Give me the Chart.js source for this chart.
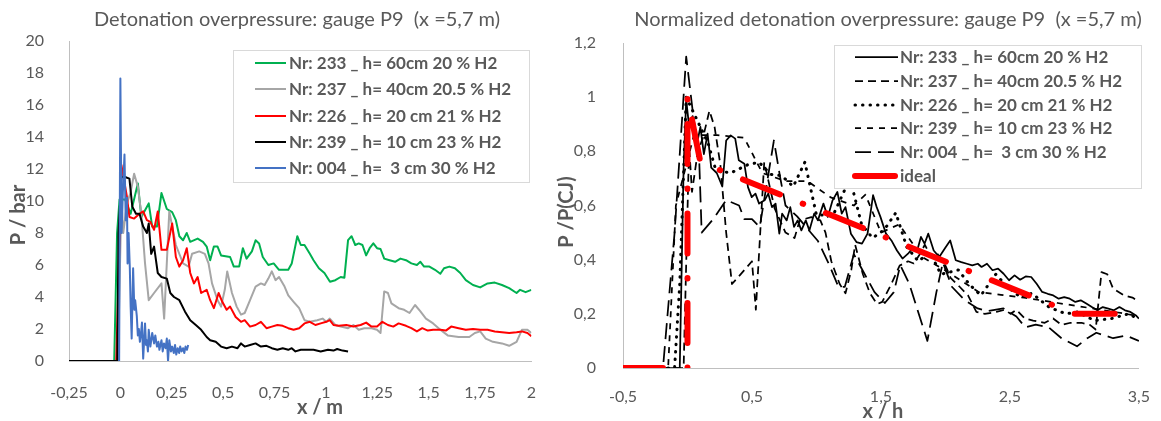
<!DOCTYPE html>
<html><head><meta charset="utf-8">
<script src="https://cdn.jsdelivr.net/npm/chart.js@4.4.1/dist/chart.umd.min.js"></script>
<style>
html,body{margin:0;padding:0;background:#fff;}
#wrap{position:relative;width:1161px;height:421px;overflow:hidden;background:#fff;}
canvas{position:absolute;top:0;}
#c1{left:0;} #c2{left:550px;}
</style></head><body>
<div id="wrap"><canvas id="c1" width="550" height="421"></canvas><canvas id="c2" width="611" height="421"></canvas></div>
<script>
// ---------- DATA ----------
const leftTitle = 'Detonation overpressure: gauge P9  (x =5,7 m)';
const rightTitle = 'Normalized detonation overpressure: gauge P9  (x =5,7 m)';
const leftXTitle = 'x / m', leftYTitle = 'P / bar';
const rightXTitle = 'x / h', rightYTitle = 'P /P(CJ)';
const seriesLabels = ['Nr: 233 _ h= 60cm 20 % H2','Nr: 237 _ h= 40cm 20.5 % H2','Nr: 226 _ h= 20 cm 21 % H2','Nr: 239 _ h= 10 cm 23 % H2','Nr: 004 _ h=  3 cm 30 % H2'];
const idealLabel = 'ideal';
const leftXTicks = [-0.25,0,0.25,0.5,0.75,1,1.25,1.5,1.75,2];
const leftYTicks = [0,2,4,6,8,10,12,14,16,18,20];
const rightXTicks = [-0.5,0.5,1.5,2.5,3.5];
const rightYTicks = [0,0.2,0.4,0.6,0.8,1,1.2];

const s233 = [[-0.25,0],[-0.03,0],[-0.016,8],[-0.004,10.1],[0.023,10.1],[0.05,9.2],[0.085,11.1],[0.102,9.0],[0.138,9.85],[0.155,8.4],[0.178,8.4],[0.2,10.5],[0.226,9.5],[0.252,9.3],[0.27,8.8],[0.287,7.8],[0.305,7.55],[0.323,8.0],[0.34,7.45],[0.376,7.65],[0.402,7.45],[0.42,7.15],[0.437,6.3],[0.455,7.15],[0.473,7.15],[0.49,6.6],[0.534,6.5],[0.552,5.9],[0.578,5.9],[0.596,7.05],[0.614,6.4],[0.64,6.85],[0.658,7.55],[0.675,7.35],[0.693,6.5],[0.72,6.0],[0.746,6.1],[0.772,5.7],[0.817,5.7],[0.834,6.1],[0.861,7.8],[0.878,7.25],[0.896,7.25],[0.922,6.7],[0.94,6.3],[0.966,5.8],[0.993,5.5],[1.02,4.95],[1.046,5.05],[1.072,5.25],[1.09,5.2],[1.108,7.55],[1.125,7.8],[1.143,7.25],[1.16,7.35],[1.178,7.25],[1.196,6.6],[1.213,7.05],[1.231,7.35],[1.249,7.05],[1.266,7.0],[1.284,6.4],[1.31,6.3],[1.337,6.2],[1.363,6.4],[1.39,6.3],[1.416,6.1],[1.443,6.0],[1.46,6.2],[1.478,5.9],[1.504,5.9],[1.531,5.7],[1.557,5.45],[1.575,5.8],[1.601,5.9],[1.628,5.8],[1.654,5.5],[1.681,5.05],[1.716,4.75],[1.751,4.6],[1.787,4.85],[1.822,4.9],[1.857,4.75],[1.892,4.55],[1.928,4.25],[1.945,4.45],[1.972,4.3],[2.0,4.45]];
const s237 = [[-0.25,0],[-0.012,0],[0.005,10.05],[0.014,8.0],[0.032,9.85],[0.049,10.5],[0.067,11.7],[0.085,10.9],[0.102,9.2],[0.12,6.1],[0.138,3.8],[0.164,4.25],[0.2,4.85],[0.213,2.65],[0.238,9.35],[0.27,7.25],[0.305,6.1],[0.332,5.9],[0.349,6.7],[0.384,6.85],[0.411,6.7],[0.429,6.1],[0.446,4.85],[0.473,3.8],[0.49,3.4],[0.508,4.45],[0.52,5.6],[0.543,4.25],[0.566,3.4],[0.587,2.9],[0.605,3.0],[0.631,3.8],[0.658,4.65],[0.684,4.85],[0.702,4.75],[0.72,5.15],[0.737,5.6],[0.755,5.05],[0.772,5.25],[0.799,4.65],[0.817,4.1],[0.843,3.7],[0.87,3.3],[0.896,2.55],[0.922,2.45],[0.958,2.55],[0.984,2.65],[1.002,2.45],[1.019,2.65],[1.046,2.25],[1.072,2.15],[1.108,2.05],[1.134,2.25],[1.16,1.95],[1.187,2.05],[1.222,2.05],[1.249,1.95],[1.266,1.75],[1.284,4.35],[1.302,4.25],[1.319,3.6],[1.354,3.3],[1.381,3.2],[1.407,3.0],[1.434,3.5],[1.46,3.1],[1.487,2.65],[1.522,2.35],[1.557,1.95],[1.593,1.6],[1.646,1.5],[1.698,1.5],[1.725,1.75],[1.751,1.85],[1.778,1.4],[1.813,1.2],[1.857,1.1],[1.892,0.95],[1.928,1.2],[1.954,1.95],[1.981,1.95],[2.0,1.75]];
const s226 = [[-0.25,0],[-0.02,0],[-0.012,3.8],[0.005,12.25],[0.032,10.25],[0.044,9.0],[0.067,8.9],[0.093,9.2],[0.111,9.35],[0.129,8.8],[0.146,8.7],[0.164,8.2],[0.182,9.35],[0.2,6.95],[0.226,6.95],[0.252,8.6],[0.27,6.5],[0.287,5.9],[0.305,6.3],[0.323,7.05],[0.34,5.5],[0.358,4.85],[0.376,5.25],[0.393,4.25],[0.42,4.45],[0.437,3.8],[0.455,3.3],[0.478,4.25],[0.496,3.7],[0.517,3.2],[0.534,3.4],[0.561,2.75],[0.587,2.45],[0.605,2.55],[0.631,2.15],[0.658,2.25],[0.684,2.45],[0.711,2.05],[0.737,2.15],[0.764,2.25],[0.79,2.2],[0.817,2.05],[0.843,1.95],[0.87,2.05],[0.896,2.35],[0.922,2.45],[0.949,2.25],[0.975,2.35],[1.002,2.45],[1.019,2.55],[1.037,2.25],[1.063,2.2],[1.099,2.25],[1.134,2.15],[1.169,2.25],[1.196,2.4],[1.222,2.15],[1.249,2.15],[1.275,2.45],[1.302,2.25],[1.328,2.15],[1.354,2.35],[1.39,2.2],[1.416,2.05],[1.443,1.85],[1.469,2.05],[1.496,1.9],[1.522,1.95],[1.557,1.95],[1.584,1.9],[1.61,2.15],[1.646,2.05],[1.681,1.95],[1.716,2.0],[1.751,1.95],[1.787,1.95],[1.822,1.85],[1.857,1.8],[1.892,1.75],[1.928,1.8],[1.954,1.85],[1.981,1.75],[2.0,1.55]];
const s239 = [[-0.25,0],[-0.015,0],[-0.009,8.0],[0.005,11.5],[0.023,11.5],[0.044,11.4],[0.058,9.65],[0.076,9.2],[0.093,9.2],[0.111,8.4],[0.129,8.0],[0.138,8.6],[0.15,6.7],[0.164,7.15],[0.182,5.5],[0.2,5.25],[0.226,5.15],[0.243,4.25],[0.261,4.0],[0.287,3.8],[0.314,3.1],[0.34,2.55],[0.367,2.25],[0.393,1.95],[0.42,1.5],[0.437,1.3],[0.464,1.2],[0.49,0.9],[0.517,0.8],[0.543,0.9],[0.57,0.8],[0.587,1.1],[0.605,0.9],[0.631,1.0],[0.658,1.1],[0.684,0.9],[0.711,0.95],[0.737,0.8],[0.764,0.7],[0.79,0.8],[0.817,0.7],[0.834,0.8],[0.852,0.6],[0.878,0.7],[0.905,0.7],[0.94,0.7],[0.975,0.6],[1.01,0.7],[1.037,0.65],[1.055,0.75],[1.081,0.65],[1.108,0.6]];
const s004 = [[-0.006,0],[0.0,17.65],[0.006,8.0],[0.012,10.5],[0.02,12.9],[0.026,8.8],[0.032,10.2],[0.035,6.1],[0.04,8.0],[0.046,5.8],[0.05,3.4],[0.055,1.4],[0.062,5.8],[0.068,3.2],[0.072,3.8],[0.08,2.8],[0.085,1.6],[0.09,2.0],[0.095,1.2],[0.1,1.7],[0.105,2.4],[0.111,0.15],[0.12,2.35],[0.125,1.0],[0.129,1.3],[0.134,0.6],[0.138,1.95],[0.146,0.9],[0.155,1.75],[0.164,1.1],[0.17,1.6],[0.178,0.9],[0.185,1.2],[0.19,0.7],[0.2,1.3],[0.206,0.6],[0.212,1.1],[0.22,0.8],[0.226,1.4],[0.232,0.0],[0.238,1.3],[0.246,0.6],[0.252,0.9],[0.26,0.5],[0.266,1.0],[0.272,0.4],[0.279,0.8],[0.286,0.5],[0.291,0.9],[0.298,0.6],[0.305,0.8],[0.311,0.5],[0.317,0.9],[0.324,0.7],[0.33,1.0]];

const r233 = [[-0.5,0],[-0.06,0],[-0.03,0.74],[-0.01,0.99],[0.013,0.89],[0.04,0.93],[0.07,0.82],[0.1,0.89],[0.127,0.79],[0.156,0.865],[0.184,0.74],[0.227,0.72],[0.27,0.67],[0.3,0.84],[0.335,0.859],[0.37,0.847],[0.398,0.767],[0.441,0.754],[0.469,0.668],[0.498,0.631],[0.527,0.644],[0.555,0.607],[0.598,0.619],[0.626,0.644],[0.655,0.594],[0.683,0.607],[0.712,0.496],[0.734,0.57],[0.769,0.545],[0.797,0.594],[0.826,0.521],[0.854,0.545],[0.883,0.508],[0.917,0.545],[0.945,0.508],[0.982,0.57],[1.011,0.545],[1.054,0.607],[1.088,0.558],[1.125,0.619],[1.162,0.65],[1.196,0.57],[1.225,0.594],[1.267,0.496],[1.31,0.465],[1.353,0.459],[1.396,0.496],[1.439,0.638],[1.467,0.594],[1.496,0.558],[1.539,0.496],[1.581,0.471],[1.624,0.434],[1.667,0.404],[1.71,0.422],[1.752,0.447],[1.781,0.434],[1.81,0.484],[1.838,0.459],[1.867,0.496],[1.909,0.434],[1.952,0.41],[1.995,0.441],[2.037,0.471],[2.08,0.398],[2.123,0.391],[2.166,0.385],[2.208,0.379],[2.251,0.385],[2.28,0.373],[2.322,0.385],[2.365,0.361],[2.408,0.367],[2.451,0.348],[2.493,0.324],[2.536,0.342],[2.579,0.326],[2.622,0.338],[2.665,0.336],[2.707,0.311],[2.75,0.281],[2.793,0.274],[2.836,0.268],[2.878,0.256],[2.921,0.262],[2.964,0.256],[3.007,0.244],[3.049,0.25],[3.092,0.238],[3.135,0.225],[3.178,0.213],[3.22,0.225],[3.263,0.219],[3.306,0.213],[3.349,0.225],[3.392,0.213],[3.434,0.207],[3.477,0.194],[3.5,0.182]];
const r237 = [[-0.5,0],[-0.03,0],[0.0125,0.82],[0.035,0.65],[0.08,0.8],[0.12,0.85],[0.17,0.95],[0.21,0.89],[0.255,0.75],[0.3,0.5],[0.345,0.31],[0.41,0.345],[0.5,0.394],[0.53,0.215],[0.595,0.76],[0.675,0.59],[0.76,0.5],[0.83,0.48],[0.87,0.545],[0.96,0.557],[1.03,0.545],[1.07,0.5],[1.115,0.394],[1.18,0.31],[1.225,0.276],[1.27,0.362],[1.3,0.455],[1.36,0.346],[1.415,0.276],[1.47,0.236],[1.51,0.244],[1.58,0.31],[1.645,0.378],[1.71,0.394],[1.755,0.386],[1.8,0.419],[1.84,0.455],[1.89,0.41],[1.93,0.427],[2.0,0.378],[2.04,0.333],[2.11,0.3],[2.175,0.268],[2.24,0.207],[2.305,0.2],[2.395,0.207],[2.46,0.215],[2.505,0.2],[2.55,0.215],[2.615,0.183],[2.68,0.175],[2.77,0.167],[2.835,0.183],[2.9,0.159],[2.97,0.167],[3.055,0.167],[3.12,0.159],[3.165,0.142],[3.21,0.354],[3.255,0.346],[3.3,0.293],[3.385,0.268],[3.45,0.26],[3.5,0.244]];
const r226 = [[-0.5,0],[-0.1,0],[-0.06,0.31],[-0.01,1.0],[0.16,0.83],[0.22,0.73],[0.335,0.72],[0.465,0.75],[0.555,0.76],[0.645,0.715],[0.73,0.71],[0.82,0.67],[0.91,0.76],[1.0,0.565],[1.13,0.565],[1.26,0.7],[1.35,0.53],[1.435,0.48],[1.525,0.51],[1.615,0.573],[1.7,0.447],[1.79,0.394],[1.88,0.427],[1.965,0.346],[2.1,0.362],[2.185,0.309],[2.275,0.268],[2.39,0.346],[2.48,0.3],[2.585,0.26],[2.67,0.276],[2.805,0.224],[2.935,0.2],[3.025,0.207],[3.155,0.175],[3.29,0.183],[3.42,0.2],[3.5,0.18]];
const r239 = [[-0.5,0],[-0.15,0],[-0.09,0.6],[0.05,0.86],[0.23,0.86],[0.44,0.85],[0.58,0.72],[0.76,0.69],[0.93,0.69],[1.11,0.63],[1.29,0.6],[1.38,0.64],[1.5,0.5],[1.64,0.53],[1.82,0.41],[2.0,0.36],[2.26,0.28],[2.43,0.27],[2.61,0.26],[2.87,0.24],[3.14,0.22],[3.4,0.2],[3.5,0.19]];
const r004 = [[-0.5,0],[-0.19,0],[-0.1,0.5],[-0.01,1.15],[0.04,0.95],[0.09,0.78],[0.11,0.5],[0.2,0.55],[0.3,0.62],[0.4,0.6],[0.44,0.55],[0.5,0.55],[0.56,0.52],[0.67,0.84],[0.72,0.7],[0.76,0.6],[0.85,0.56],[0.92,0.52],[1.01,0.47],[1.1,0.38],[1.17,0.3],[1.22,0.3],[1.29,0.42],[1.37,0.35],[1.45,0.28],[1.53,0.24],[1.6,0.28],[1.65,0.38],[1.72,0.31],[1.78,0.22],[1.86,0.1],[1.93,0.28],[1.98,0.39],[2.05,0.3],[2.15,0.25],[2.25,0.22],[2.32,0.21],[2.45,0.22],[2.55,0.19],[2.62,0.15],[2.7,0.16],[2.8,0.15],[2.9,0.11],[3.02,0.08],[3.1,0.11],[3.17,0.13],[3.3,0.11],[3.4,0.12],[3.5,0.1]];
const rIdeal = [[-0.5,0],[0,0],[0,1.0],[0.1,0.76],[3.0,0.2],[3.5,0.2]];

// ---------- HELPERS ----------
const FONT = 'Lato, "Open Sans", sans-serif';
const GREY = '#595959';
function mk(p){ return p.map(a => ({x: a[0], y: a[1]})); }
function fmt(v){ return String(v).replace('.', ','); }

const textPlugin = {
  id: 'texts',
  afterDraw(chart, args, o) {
    const ctx = chart.ctx;
    ctx.save();
    ctx.fillStyle = GREY;
    ctx.textAlign = 'center'; ctx.textBaseline = 'middle';
    ctx.font = `${o.titleSize}px ${FONT}`;
    ctx.fillText(o.title, o.titleX, o.titleY);
    ctx.font = `bold ${o.axisSize}px ${FONT}`;
    ctx.fillText(o.xTitle, o.xTitleX, o.xTitleY);
    ctx.translate(o.yTitleX, o.yTitleY); ctx.rotate(-Math.PI/2);
    ctx.fillText(o.yTitle, 0, 0);
    ctx.restore();
  }
};
const boxLegend = {
  id: 'boxLegend',
  afterDraw(chart, args, o) {
    const ctx = chart.ctx;
    ctx.save();
    ctx.fillStyle = '#fff';
    ctx.fillRect(o.x, o.y, o.w, o.h);
    ctx.strokeStyle = '#d9d9d9'; ctx.lineWidth = 1;
    ctx.strokeRect(o.x + 0.5, o.y + 0.5, o.w, o.h);
    ctx.font = `bold ${o.size}px ${FONT}`;
    ctx.textBaseline = 'middle'; ctx.textAlign = 'left';
    chart.data.datasets.forEach((ds, i) => {
      const y = o.rows[i];
      ctx.save();
      ctx.strokeStyle = ds.borderColor; ctx.lineWidth = ds.borderWidth;
      ctx.setLineDash(ds.borderDash || []);
      ctx.lineCap = ds.borderCapStyle || 'butt';
      ctx.beginPath(); ctx.moveTo(o.x1, y); ctx.lineTo(o.x2, y); ctx.stroke();
      ctx.restore();
      ctx.fillStyle = GREY;
      ctx.fillText(ds.label, o.tx, y + 1);
    });
    ctx.restore();
  }
};
function axis(min, max, ticksArr, fitProp, fitVal, pad) {
  return {
    type: 'linear', min, max,
    afterBuildTicks: s => { s.ticks = ticksArr.map(v => ({value: v})); },
    afterFit: s => { s[fitProp] = fitVal; },
    grid: {display: false},
    border: {display: true, color: '#bfbfbf', width: 1},
    ticks: {padding: pad, color: GREY, font: {family: FONT, size: 16}, autoSkip: false, maxRotation: 0, callback: v => fmt(v)}
  };
}
const common = {
  responsive: false, animation: false, events: [],
  elements: {point: {radius: 0}, line: {tension: 0, borderJoinStyle: 'round'}},
};

// ---------- LEFT CHART ----------
new Chart(document.getElementById('c1'), {
  type: 'line',
  data: {datasets: [
    {label: seriesLabels[0], data: mk(s233), borderColor: '#00b050', borderWidth: 2, order: 5},
    {label: seriesLabels[1], data: mk(s237), borderColor: '#a6a6a6', borderWidth: 2, order: 4},
    {label: seriesLabels[2], data: mk(s226), borderColor: '#ff0000', borderWidth: 2, order: 3},
    {label: seriesLabels[3], data: mk(s239), borderColor: '#000000', borderWidth: 2, order: 2},
    {label: seriesLabels[4], data: mk(s004), borderColor: '#4472c4', borderWidth: 2, order: 1}
  ]},
  options: Object.assign({}, common, {
    layout: {padding: {left: 0, top: 41, right: 7, bottom: 0}},
    plugins: {
      legend: {display: false}, tooltip: {enabled: false}, title: {display: false},
      texts: {title: leftTitle, titleSize: 20, titleX: 297, titleY: 20, axisSize: 20,
              xTitle: leftXTitle, xTitleX: 320, xTitleY: 408, yTitle: leftYTitle, yTitleX: 19, yTitleY: 215},
      boxLegend: {x: 233, y: 50, w: 296, h: 132, x1: 255, x2: 286, tx: 289, size: 17, rows: [63, 89, 116, 142, 168]}
    },
    scales: {
      x: axis(-0.25, 2, leftXTicks, 'height', 60, 14),
      y: axis(0, 20, leftYTicks, 'width', 69, 17)
    }
  }),
  plugins: [textPlugin, boxLegend]
});

// ---------- RIGHT CHART ----------
new Chart(document.getElementById('c2'), {
  type: 'line',
  data: {datasets: [
    {label: seriesLabels[0], data: mk(r233), borderColor: '#000', borderWidth: 1.75, order: 5},
    {label: seriesLabels[1], data: mk(r237), borderColor: '#000', borderWidth: 1.75, borderDash: [8, 5], order: 4},
    {label: seriesLabels[2], data: mk(r226), borderColor: '#000', borderWidth: 3, borderDash: [0.5, 7], borderCapStyle: 'round', order: 3},
    {label: seriesLabels[3], data: mk(r239), borderColor: '#000', borderWidth: 1.75, borderDash: [6, 6], order: 2},
    {label: seriesLabels[4], data: mk(r004), borderColor: '#000', borderWidth: 1.75, borderDash: [16, 7], order: 1},
    {label: idealLabel, data: mk(rIdeal), borderColor: '#ff0000', borderWidth: 6, borderDash: [40, 24.5, 0.5, 24.5], borderCapStyle: 'round', order: 0}
  ]},
  options: Object.assign({}, common, {
    layout: {padding: {left: 0, top: 43, right: 17, bottom: 0}},
    plugins: {
      legend: {display: false}, tooltip: {enabled: false}, title: {display: false},
      texts: {title: rightTitle, titleSize: 20, titleX: 338, titleY: 20, axisSize: 20,
              xTitle: rightXTitle, xTitleX: 333, xTitleY: 412, yTitle: rightYTitle, yTitleX: 17, yTitleY: 212},
      boxLegend: {x: 284, y: 45, w: 307, h: 143, x1: 305, x2: 348, tx: 350, size: 17, rows: [57, 81, 105, 128, 152, 176]}
    },
    scales: {
      x: axis(-0.5, 3.5, rightXTicks, 'height', 53, 11),
      y: axis(0, 1.2, rightYTicks, 'width', 73, 19)
    }
  }),
  plugins: [textPlugin, boxLegend]
});
</script>
</body></html>
